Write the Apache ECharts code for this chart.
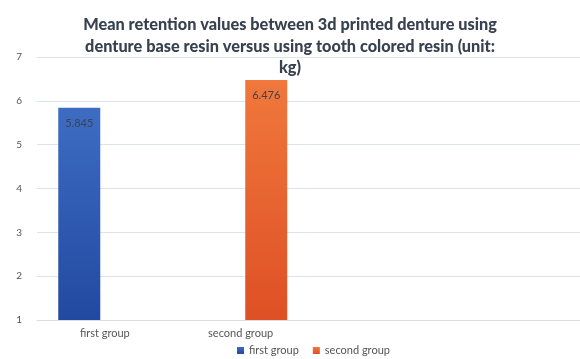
<!DOCTYPE html>
<html>
<head>
<meta charset="utf-8">
<script src="https://cdn.jsdelivr.net/npm/echarts@6/dist/echarts.min.js"></script>
<style>
  html, body { margin: 0; padding: 0; background: #fff; }
  #chart { width: 580px; height: 359px; }
</style>
</head>
<body>
<div id="chart"></div>
<script>
// categories (the last two slots are empty in the original)
const categories = ['first group', 'second group', '', ''];
const seriesNames = ['first group', 'second group'];
const firstGroup = [5.845, '-', '-', '-'];
const secondGroup = ['-', 6.476, '-', '-'];
const yTicks = { min: 1, max: 7, step: 1 };

const chart = echarts.init(document.getElementById('chart'));

const font = 'Lato, "Open Sans", sans-serif';

const blueFill = new echarts.graphic.LinearGradient(0, 0, 0, 1, [
  { offset: 0, color: '#3d6dc3' },
  { offset: 1, color: '#2249a0' }
]);
const orangeFill = new echarts.graphic.LinearGradient(0, 0, 0, 1, [
  { offset: 0, color: '#f0783c' },
  { offset: 1, color: '#de5025' }
]);

const valueLabel = {
  show: true,
  position: 'insideTop',
  distance: 10,
  color: '#3a4452',
  fontSize: 11,
  fontFamily: font
};

chart.setOption({
  animation: false,
  title: {
    text: 'Mean retention values between 3d printed denture using\ndenture base resin versus using tooth colored resin (unit:\nkg)',
    left: 'center',
    top: 9,
    textStyle: {
      fontFamily: font,
      fontWeight: 900,
      fontSize: 16.3,
      lineHeight: 21.5,
      color: '#37414f'
    }
  },
  legend: {
    data: seriesNames,
    left: 232,
    top: 340,
    itemWidth: 7,
    itemHeight: 7,
    itemGap: 14,
    icon: 'rect',
    textStyle: { fontFamily: font, fontSize: 11, color: '#555' }
  },
  grid: {
    left: 37,
    right: 0,
    top: 57,
    bottom: 39,
    containLabel: false
  },
  xAxis: {
    type: 'category',
    data: categories,
    axisLine: { lineStyle: { color: '#d9dee6' } },
    axisTick: { show: false },
    axisLabel: {
      margin: 8,
      color: '#555',
      fontSize: 11,
      fontFamily: font
    }
  },
  yAxis: {
    type: 'value',
    min: yTicks.min,
    max: yTicks.max,
    interval: yTicks.step,
    axisLine: { show: false },
    axisTick: { show: false },
    axisLabel: {
      margin: 15,
      color: '#555',
      fontSize: 10,
      fontFamily: font
    },
    splitLine: { lineStyle: { color: '#dde3ea' } }
  },
  series: [
    {
      name: seriesNames[0],
      type: 'bar',
      data: firstGroup,
      barWidth: 42,
      barGap: '22%',
      itemStyle: { color: blueFill },
      label: valueLabel
    },
    {
      name: seriesNames[1],
      type: 'bar',
      data: secondGroup,
      barWidth: 42,
      itemStyle: { color: orangeFill },
      label: valueLabel
    }
  ]
});
</script>
</body>
</html>
